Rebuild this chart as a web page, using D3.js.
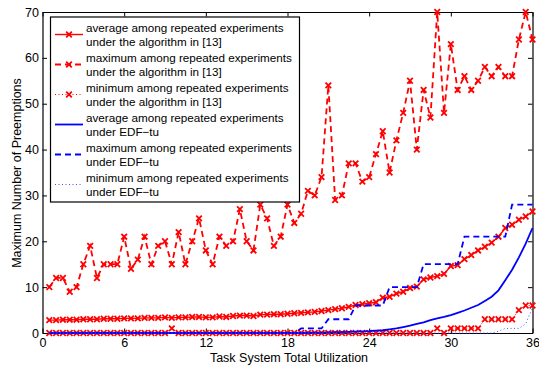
<!DOCTYPE html>
<html>
<head>
<meta charset="utf-8">
<script src="https://cdn.jsdelivr.net/npm/d3@7"></script>
<style>
  body { margin: 0; background: #fff; }
  text { font-family: 'Liberation Sans', Arial, Helvetica, sans-serif; fill: #000; }
</style>
</head>
<body>
<div id="chart"></div>
<script>
// task system total utilization (x positions of every sample)
const utilization = [
  0.5, 1, 1.5, 2, 2.5, 3, 3.5, 4, 4.5, 5, 5.5, 6, 6.5, 7, 7.5, 8, 8.5, 9,
  9.5, 10, 10.5, 11, 11.5, 12, 12.5, 13, 13.5, 14, 14.5, 15, 15.5, 16, 16.5, 17, 17.5, 18,
  18.5, 19, 19.5, 20, 20.5, 21, 21.5, 22, 22.5, 23, 23.5, 24, 24.5, 25, 25.5, 26, 26.5, 27,
  27.5, 28, 28.5, 29, 29.5, 30, 30.5, 31, 31.5, 32, 32.5, 33, 33.5, 34, 34.5, 35, 35.5, 36
];

// algorithm in [13]
const algAvg = [
  2.8, 2.8, 2.9, 2.9, 2.9, 3.0, 3.0, 3.0, 3.1, 3.1, 3.1, 3.2, 3.2, 3.2, 3.3, 3.3, 3.3, 3.4,
  3.3, 3.4, 3.4, 3.5, 3.5, 3.4, 3.4, 3.6, 3.5, 3.7, 3.8, 3.8, 3.7, 4.0, 4.0, 4.1, 4.1, 4.2,
  4.3, 4.4, 4.5, 4.6, 4.8, 5.0, 5.2, 5.4, 5.7, 6.1, 6.3, 6.5, 6.7, 7.7, 7.9, 8.6, 9.0, 9.8,
  10.1, 11.7, 12.1, 12.4, 12.9, 14.6, 14.8, 16.1, 17.0, 18.0, 18.8, 19.7, 21.0, 22.9, 23.6, 24.7, 25.4, 26.5
];
const algMax = [
  10, 12, 12, 9, 10, 15, 19, 12, 15, 15, 15, 21, 14, 16, 21, 15, 19, 20,
  15, 22, 15, 20, 25, 18, 15, 21, 19, 20, 27, 20, 18, 28, 25, 19, 21, 28,
  24, 26, 31, 30, 34, 54, 29, 30, 37, 37, 33, 34, 39, 44, 35, 42, 48, 55,
  40, 53, 47, 70, 48, 63, 53, 56, 53, 55, 58, 56, 58, 56, 56, 64, 70, 64
];
const algMin = [
  0, 0, 0, 0, 0, 0, 0, 0, 0, 0, 0, 0, 0, 0, 0, 0, 0, 0,
  1, 0, 0, 0, 0, 0, 0, 0, 0, 0, 0, 0, 0, 0, 0, 0, 0, 0,
  0, 0, 0, 0, 0, 0, 0, 0, 0, 0, 0, 0, 0, 0, 0, 0, 0, 0,
  0, 0, 0, 1, 0, 1, 1, 1, 1, 1, 3, 3, 3, 3, 3, 5, 6, 6
];

// EDF-tu
const edfAvg = [
  0, 0, 0, 0, 0, 0, 0, 0, 0, 0, 0, 0, 0, 0, 0, 0, 0, 0,
  0, 0, 0, 0, 0, 0, 0, 0, 0, 0, 0, 0, 0, 0, 0, 0, 0, 0,
  0, 0, 0.05, 0.1, 0.1, 0.15, 0.2, 0.2, 0.25, 0.3, 0.35, 0.4, 0.5, 0.6, 0.8, 1.0, 1.3, 1.6,
  2.0, 2.3, 2.8, 3.2, 3.5, 3.9, 4.4, 4.9, 5.5, 6.1, 7.0, 7.9, 9.3, 11.5, 13.8, 16.5, 19.5, 22.9
];
const edfMax = [
  0, 0, 0, 0, 0, 0, 0, 0, 0, 0, 0, 0, 0, 0, 0, 0, 0, 0,
  0, 0, 0, 0, 0, 0, 0, 0, 0, 0, 0, 0, 0, 0, 0, 0, 0, 0,
  0, 1, 1, 1, 1, 3, 3, 3, 3, 6, 6, 6, 6, 6, 10, 10, 10, 10,
  10, 15, 15, 15, 15, 15, 15, 21, 21, 21, 21, 21, 21, 21, 28, 28, 28, 28
];
const edfMin = [
  0, 0, 0, 0, 0, 0, 0, 0, 0, 0, 0, 0, 0, 0, 0, 0, 0, 0,
  0, 0, 0, 0, 0, 0, 0, 0, 0, 0, 0, 0, 0, 0, 0, 0, 0, 0,
  0, 0, 0, 0, 0, 0, 0, 0, 0, 0, 0, 0, 0, 0, 0, 0, 0, 0,
  0, 0, 0, 0, 0, 0, 0, 0, 0, 0, 0, 0, 0.4, 1, 1, 1, 2, 5.5
];

const xTicks = [0, 6, 12, 18, 24, 30, 36];
const yTicks = [0, 10, 20, 30, 40, 50, 60, 70];
const xLabel = 'Task System Total Utilization';
const yLabel = 'Maximum Number of Preemptions';
const legendLabels = [
  ['average among repeated experiments', 'under the algorithm in [13]'],
  ['maximum among repeated experiments', 'under the algorithm in [13]'],
  ['minimum among repeated experiments', 'under the algorithm in [13]'],
  ['average among repeated experiments', 'under EDF\u2212tu'],
  ['maximum among repeated experiments', 'under EDF\u2212tu'],
  ['minimum among repeated experiments', 'under EDF\u2212tu']
];

const width = 539;
const height = 365;
const margin = { top: 12, right: 6.5, bottom: 32, left: 42.5 };

const series = [
  { values: algAvg, color: '#ff0000', dash: null, width: 1.4, marker: true },
  { values: algMax, color: '#ff0000', dash: '6,4', width: 1.8, marker: true },
  { values: algMin, color: '#ff0000', dash: '1,2.5', width: 1, marker: true },
  { values: edfAvg, color: '#0000ff', dash: null, width: 1.8, marker: false },
  { values: edfMax, color: '#0000ff', dash: '6,4', width: 1.8, marker: false },
  { values: edfMin, color: '#4d4dff', dash: '1,2.5', width: 1, marker: false }
];

const svg = d3.select('#chart').append('svg')
  .attr('width', width)
  .attr('height', height);

const x = d3.scaleLinear().domain([0, 36]).range([margin.left, width - margin.right]);
const y = d3.scaleLinear().domain([0, 70]).range([height - margin.bottom, margin.top]);

const crossPath = 'M-2.8,-2.8L2.8,2.8M-2.8,2.8L2.8,-2.8';

// axes box with inward ticks
const axisStyle = (g) => {
  g.select('.domain').attr('stroke', '#000').attr('stroke-width', 1.2);
  g.selectAll('.tick line').attr('stroke', '#000').attr('stroke-width', 1);
  g.selectAll('.tick text').attr('font-size', 12.5).attr('fill', '#000');
};

svg.append('g')
  .attr('transform', `translate(0,${y(0)})`)
  .call(d3.axisBottom(x).tickValues(xTicks).tickSize(-4.5).tickSizeOuter(0).tickPadding(5.5))
  .call(axisStyle);
svg.append('g')
  .attr('transform', `translate(0,${y(70)})`)
  .call(d3.axisTop(x).tickValues(xTicks).tickSize(-4.5).tickSizeOuter(0).tickFormat(''))
  .call(axisStyle);
svg.append('g')
  .attr('transform', `translate(${x(0)},0)`)
  .call(d3.axisLeft(y).tickValues(yTicks).tickSize(-4.5).tickSizeOuter(0).tickPadding(3.5))
  .call(axisStyle);
svg.append('g')
  .attr('transform', `translate(${x(36)},0)`)
  .call(d3.axisRight(y).tickValues(yTicks).tickSize(-4.5).tickSizeOuter(0).tickFormat(''))
  .call(axisStyle);

const line = d3.line()
  .x((d, i) => x(utilization[i]))
  .y((d) => y(d));

series.forEach((s) => {
  svg.append('path')
    .datum(s.values)
    .attr('fill', 'none')
    .attr('stroke', s.color)
    .attr('stroke-width', s.width)
    .attr('stroke-dasharray', s.dash)
    .attr('d', line);
  if (s.marker) {
    svg.append('g')
      .selectAll('path')
      .data(s.values)
      .join('path')
      .attr('transform', (d, i) => `translate(${x(utilization[i])},${y(d)})`)
      .attr('d', crossPath)
      .attr('stroke', s.color)
      .attr('stroke-width', 1.8)
      .attr('fill', 'none');
  }
});

// axis titles
svg.append('text')
  .attr('x', 289)
  .attr('y', 362)
  .attr('text-anchor', 'middle')
  .attr('font-size', 12.5)
  .text(xLabel);
svg.append('text')
  .attr('transform', 'translate(20.5,173) rotate(-90)')
  .attr('text-anchor', 'middle')
  .attr('font-size', 12.5)
  .text(yLabel);

// legend
const legend = svg.append('g');
legend.append('rect')
  .attr('x', 50.5)
  .attr('y', 17)
  .attr('width', 249)
  .attr('height', 185)
  .attr('fill', '#fff')
  .attr('stroke', '#000')
  .attr('stroke-width', 1.2);

const entry = legend.selectAll('g.entry')
  .data(series)
  .join('g')
  .attr('class', 'entry')
  .attr('transform', (d, i) => `translate(0,${34.5 + i * 30})`);

entry.append('line')
  .attr('x1', 55)
  .attr('x2', 83)
  .attr('stroke', (d) => d.color)
  .attr('stroke-width', (d) => d.width)
  .attr('stroke-dasharray', (d) => d.dash);
entry.filter((d) => d.marker)
  .append('path')
  .attr('transform', 'translate(69,0)')
  .attr('d', crossPath)
  .attr('stroke', (d) => d.color)
  .attr('stroke-width', 1.8)
  .attr('fill', 'none');

entry.each(function (d, i) {
  const t = d3.select(this).append('text')
    .attr('x', 86)
    .attr('font-size', 11.7);
  t.append('tspan').attr('x', 86).attr('y', -2.3).text(legendLabels[i][0]);
  t.append('tspan').attr('x', 86).attr('y', 11.2).text(legendLabels[i][1]);
});
</script>
</body>
</html>
